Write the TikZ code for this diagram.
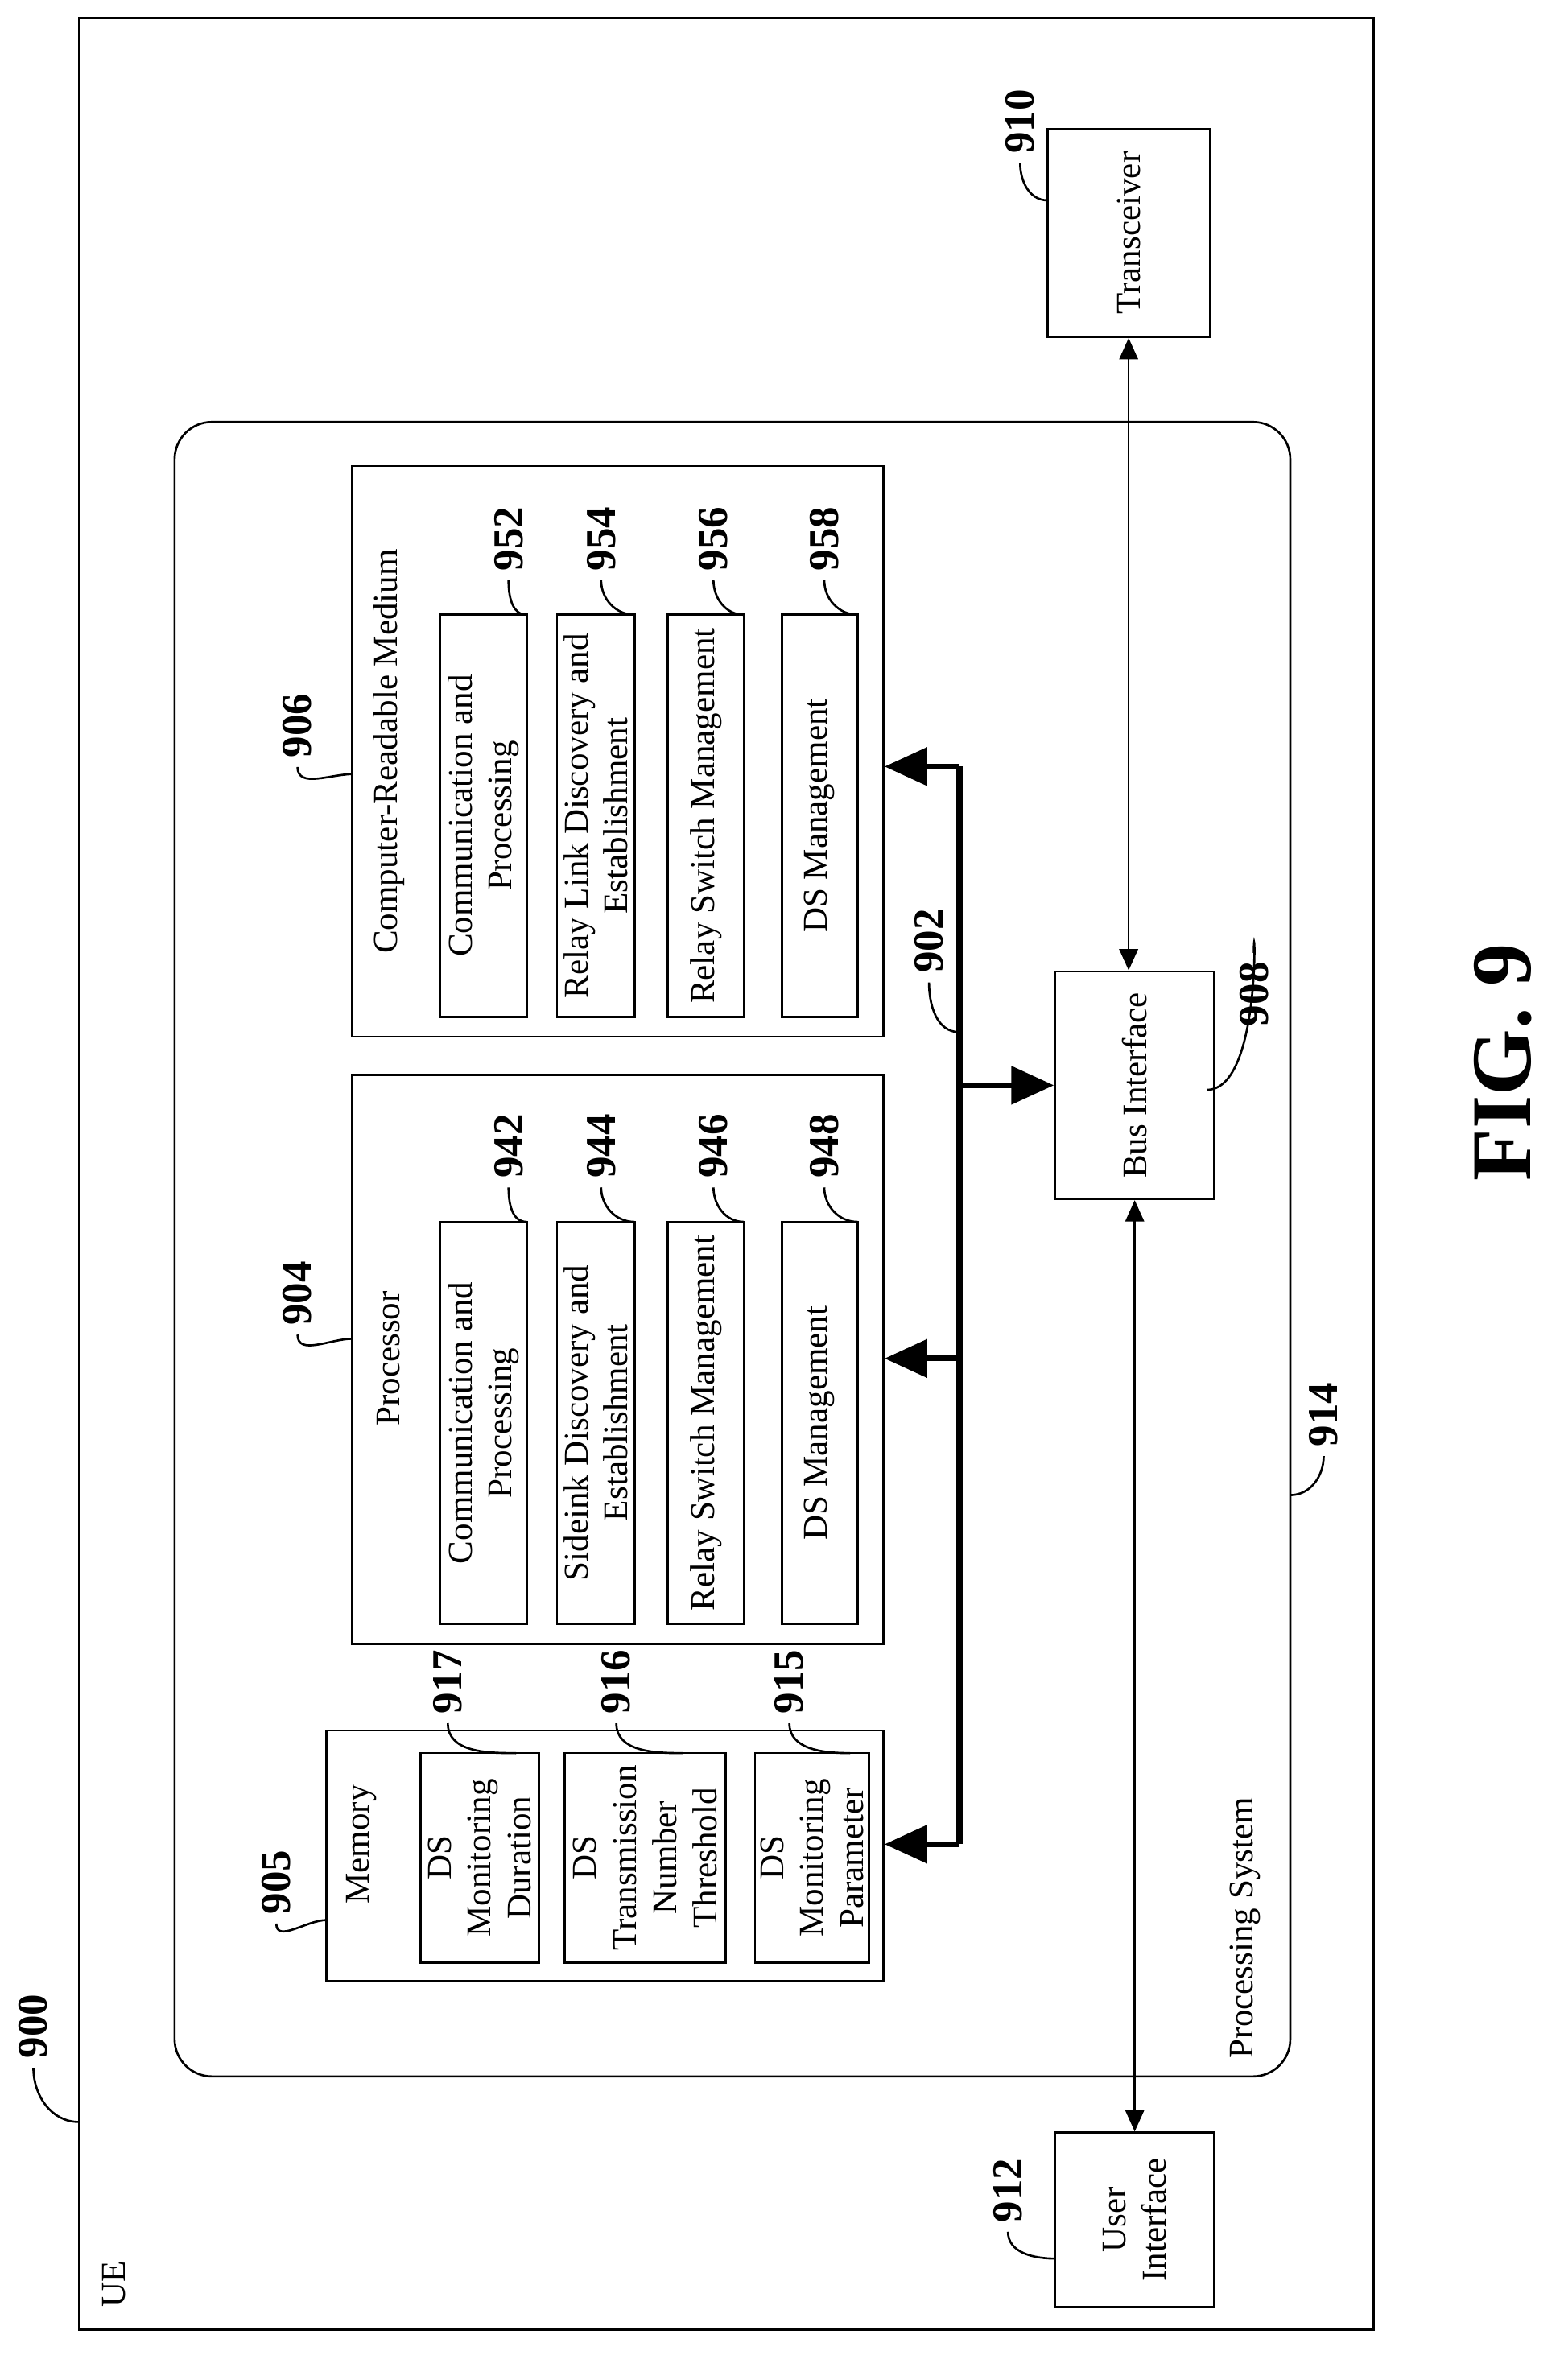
\documentclass[tikz,border=0pt]{standalone}
\usepackage{fontspec}
\setmainfont{Liberation Serif}
\usepackage{tikz}
\usetikzlibrary{arrows.meta,calc}

\tikzset{
  blk/.style={draw,thick,rotate=90,align=center,inner sep=2pt,
    font=\fontsize{13}{15}\selectfont},
  txt/.style={rotate=90,align=center,font=\fontsize{13}{15}\selectfont},
  num/.style={rotate=90,font=\fontsize{16}{18}\selectfont\bfseries},
  lead/.style={thick},
  bus/.style={line width=2.2pt},
  busarr/.style={line width=2.2pt,-{Triangle[length=16pt,width=14pt]}},
  dblarr/.style={thick,{Triangle[length=8pt,width=7pt]}-{Triangle[length=8pt,width=7pt]}}
}

% box from corner (#2,#3) to (#4,#5), text rotated
\newcommand{\blk}[6]{%
  \pgfmathsetmacro\bw{(#4-#2)*0.02}%
  \pgfmathsetmacro\bh{(#5-#3)*0.02}%
  \node[blk,minimum width=\bh cm,minimum height=\bw cm] (#1)
    at ({(#2+#4)/2},{(#3+#5)/2}) {#6};}

\begin{document}
\begin{tikzpicture}[x=0.02cm,y=-0.02cm]
    \useasboundingbox (0,0) rectangle (1030,1568);

    % UE outline
    \draw[thick] (52,12) rectangle (905,1535);
    \node[txt] (ue) at (75,1505) {UE};
    \node[num] (n900) at (22,1335) {900};
    \draw[lead] (n900.west) to[out=-90,in=180] (52,1398);

    % transceiver and interfaces
    \blk{tr}{690}{85}{797}{222}{Transceiver}
    \node[num] (n910) at (672,80) {910};
    \draw[lead] (n910.west) to[out=-90,in=180] (690,132);
    \blk{bi}{695}{640}{800}{790}{Bus Interface}
    \node[num] (n908) at (826,655) {908};
    \draw[lead] (n908.east) to[out=90,in=0] (795,718);
    \blk{ui}{695}{1405}{800}{1520}{User\\Interface}
    \node[num] (n912) at (664,1443) {912};
    \draw[lead] (n912.west) to[out=-90,in=180] (695,1488);

    % processing system
    \draw[thick,rounded corners=14pt] (115,278) rectangle (850,1368);
    \node[txt] (ps) at (820,1270) {Processing System};
    \node[num] (n914) at (872,932) {914};
    \draw[lead] (n914.west) to[out=-90,in=0] (850,985);

    % memory
    \blk{mem}{215}{1140}{582}{1305}{}
    \node[txt] (memt) at (238,1215) {Memory};
    \node[num] (n905) at (182,1240) {905};
    \draw[lead] (n905.west) to[out=-90,in=180] (215,1265);
    \blk{m917}{277}{1155}{355}{1293}{DS\\Monitoring\\Duration}
    \blk{m916}{372}{1155}{478}{1293}{DS\\Transmission\\Number\\Threshold}
    \blk{m915}{498}{1155}{572}{1293}{DS\\Monitoring\\Parameter}
    \node[num] (n917) at (295,1108) {917};
    \node[num] (n916) at (406,1108) {916};
    \node[num] (n915) at (520,1108) {915};
    \draw[lead] (n917.west) to[out=-90,in=180] (340,1155);
    \draw[lead] (n916.west) to[out=-90,in=180] (450,1155);
    \draw[lead] (n915.west) to[out=-90,in=180] (560,1155);

    % processor
    \blk{proc}{232}{708}{582}{1083}{}
    \node[txt] (proct) at (256,895) {Processor};
    \node[num] (n904) at (196,852) {904};
    \draw[lead] (n904.west) to[out=-90,in=180] (232,882);
    \blk{p942}{290}{805}{347}{1070}{Communication and\\Processing}
    \blk{p944}{367}{805}{418}{1070}{Sideink Discovery and\\Establishment}
    \blk{p946}{440}{805}{490}{1070}{Relay Switch Management}
    \blk{p948}{515}{805}{565}{1070}{DS Management}
    \node[num] (n942) at (335,755) {942};
    \node[num] (n944) at (396,755) {944};
    \node[num] (n946) at (470,755) {946};
    \node[num] (n948) at (543,755) {948};
    \draw[lead] (n942.west) to[out=-90,in=180] (347,805);
    \draw[lead] (n944.west) to[out=-90,in=180] (418,805);
    \draw[lead] (n946.west) to[out=-90,in=180] (490,805);
    \draw[lead] (n948.west) to[out=-90,in=180] (565,805);

    % computer-readable medium
    \blk{crm}{232}{307}{582}{683}{}
    \node[txt] (crmt) at (256,495) {Computer-Readable Medium};
    \node[num] (n906) at (196,478) {906};
    \draw[lead] (n906.west) to[out=-90,in=180] (232,510);
    \blk{c952}{290}{405}{347}{670}{Communication and\\Processing}
    \blk{c954}{367}{405}{418}{670}{Relay Link Discovery and\\Establishment}
    \blk{c956}{440}{405}{490}{670}{Relay Switch Management}
    \blk{c958}{515}{405}{565}{670}{DS Management}
    \node[num] (n952) at (335,355) {952};
    \node[num] (n954) at (396,355) {954};
    \node[num] (n956) at (470,355) {956};
    \node[num] (n958) at (543,355) {958};
    \draw[lead] (n952.west) to[out=-90,in=180] (347,405);
    \draw[lead] (n954.west) to[out=-90,in=180] (418,405);
    \draw[lead] (n956.west) to[out=-90,in=180] (490,405);
    \draw[lead] (n958.west) to[out=-90,in=180] (565,405);

    % bus 902
    \coordinate (b1) at (632,505);
    \coordinate (b2) at (632,895);
    \coordinate (b3) at (632,1215);
    \coordinate (b4) at (632,715);
    \draw[bus] (b1) -- (b3);
    \draw[busarr] (b1) -- (b1 -| crm.south);
    \draw[busarr] (b2) -- (b2 -| proc.south);
    \draw[busarr] (b3) -- (b3 -| mem.south);
    \draw[busarr] (b4) -- (bi.north);
    \node[num] (n902) at (612,620) {902};
    \draw[lead] (n902.west) to[out=-90,in=180] (632,680);

    \draw[dblarr] (tr.west) -- (tr.west |- bi.east);
    \draw[dblarr] (bi.west) -- (bi.west |- ui.east);

    \node[rotate=90,font=\fontsize{32}{36}\selectfont\bfseries] (fig) at (990,700) {FIG. 9};
\end{tikzpicture}
\end{document}
